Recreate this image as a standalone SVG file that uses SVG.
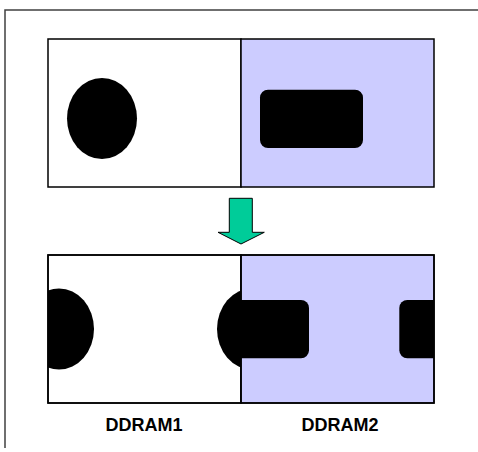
<svg xmlns="http://www.w3.org/2000/svg" width="478" height="452" viewBox="0 0 478 452">
<style>
.frame{fill:none;stroke:#404040;stroke-width:1.5}
.box{fill:#fff;stroke:#000;stroke-width:1.5}
.blue{fill:#ccccff;stroke:#000;stroke-width:1.5}
.blk{fill:#000}
.lbl{font-family:"Liberation Sans",Arial,sans-serif;font-weight:bold;font-size:18px;fill:#000;text-anchor:middle}
</style>
<defs>
<clipPath id="cl"><rect x="48" y="255" width="193" height="148"/></clipPath>
<clipPath id="cr"><rect x="241" y="255" width="193" height="148"/></clipPath>
</defs>
<path class="frame" d="M478,10 H5 V448"/>
<g id="top">
<rect class="box" x="48" y="39" width="193" height="148"/>
<rect class="blue" x="241" y="39" width="193" height="148"/>
<ellipse class="blk" cx="102" cy="118.5" rx="35" ry="40.5"/>
<rect class="blk" x="260" y="89.7" width="103" height="58.3" rx="8"/>
</g>
<g id="bottom">
<rect class="box" x="48" y="255" width="193" height="148"/>
<rect class="blue" x="241" y="255" width="193" height="148"/>
<g clip-path="url(#cl)">
<ellipse class="blk" cx="59" cy="329" rx="35" ry="40.5"/>
<ellipse class="blk" cx="252" cy="329" rx="35" ry="40.5"/>
</g>
<g clip-path="url(#cr)">
<rect class="blk" x="206" y="300" width="103" height="58.3" rx="8"/>
<rect class="blk" x="399.3" y="300" width="103" height="58.3" rx="8"/>
</g>
<rect x="48" y="255" width="386" height="148" fill="none" stroke="#000" stroke-width="1.5"/>
<line x1="241" y1="255" x2="241" y2="403" stroke="#000" stroke-width="1.5"/>
<text class="lbl" x="144" y="431">DDRAM1</text>
<text class="lbl" x="340" y="431">DDRAM2</text>
</g>
<g id="connectors">
<path d="M229.3,198.3 H252.3 V232.3 H264.3 L241,244 L218,232.3 H229.3 Z" fill="#00cc99" stroke="#000" stroke-width="1"/>
</g>
</svg>
